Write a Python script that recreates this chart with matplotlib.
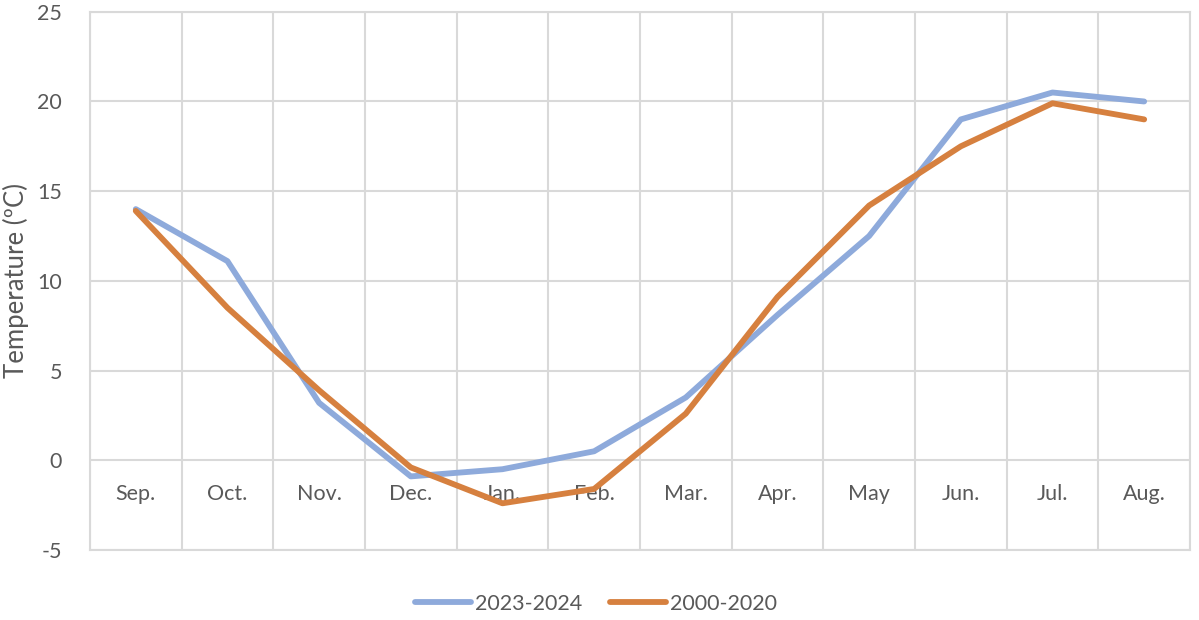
import numpy as np
import matplotlib
matplotlib.use("Agg")
import matplotlib.pyplot as plt

months = ["Sep.", "Oct.", "Nov.", "Dec.", "Jan.", "Feb.", "Mar.", "Apr.", "May", "Jun.", "Jul.", "Aug."]
temp_2023_2024 = [14.0, 11.1, 3.2, -0.9, -0.5, 0.5, 3.5, 8.1, 12.5, 19.0, 20.5, 20.0]
temp_2000_2020 = [13.9, 8.5, 3.9, -0.4, -2.4, -1.6, 2.6, 9.1, 14.2, 17.5, 19.9, 19.0]
y_ticks = [-5, 0, 5, 10, 15, 20, 25]

plt.rcParams["font.family"] = ["Lato", "DejaVu Sans"]
text_col = "#595959"
grid_col = "#d9d9d9"

fig = plt.figure(figsize=(11.99, 6.2), dpi=100)
ax = fig.add_axes([0.075, 0.113, 0.9175, 0.868])

x = np.arange(len(months))
ax.plot(x, temp_2023_2024, color="#8eaadb", lw=4.2, solid_capstyle="round", label="2023-2024", zorder=3)
ax.plot(x, temp_2000_2020, color="#d6803f", lw=4.2, solid_capstyle="round", label="2000-2020", zorder=4)

ax.set_xlim(-0.5, len(months) - 0.5)
ax.set_ylim(-5, 25)
ax.set_yticks(y_ticks)
ax.set_yticklabels([str(v) for v in y_ticks])
ax.set_xticks(np.arange(len(months) + 1) - 0.5)
ax.set_xticklabels([])
ax.tick_params(axis="both", length=0, colors=text_col, labelsize=15.5)
ax.tick_params(axis="y", pad=20)
ax.grid(True, color=grid_col, lw=1.5, zorder=0)
for s in ax.spines.values():
    s.set_color(grid_col)
    s.set_linewidth(1.5)
ax.set_axisbelow(True)

# category labels sit just below the zero line (Excel style)
for i, m in enumerate(months):
    ax.annotate(m, (i, 0), xytext=(0, -17), textcoords="offset points",
                ha="center", va="top", fontsize=15.5, color=text_col)

ax.set_ylabel("Temperature (\u00baC)", fontsize=18.5, color=text_col, labelpad=6)

ax.legend(loc="upper center", bbox_to_anchor=(0.46, -0.045), ncol=2, frameon=False,
          fontsize=15.5, labelcolor=text_col, handlelength=2.6, handletextpad=0.2,
          columnspacing=1.3)

fig.savefig("out.png", dpi=100)
